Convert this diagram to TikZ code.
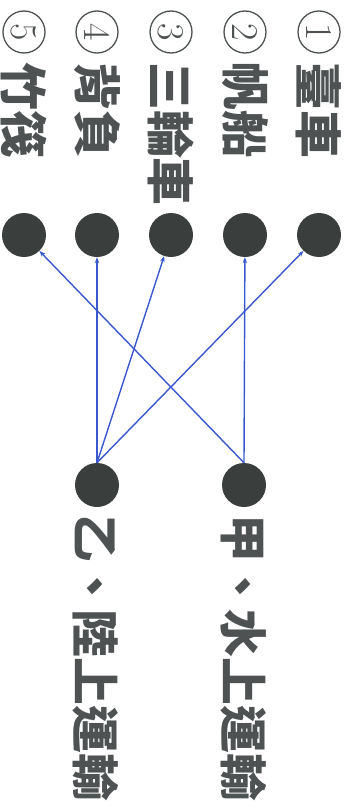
\documentclass[tikz,border=0pt]{standalone}
\usepackage{fontspec}
\newfontfamily\tcfont{Noto Sans CJK TC}
\usetikzlibrary{arrows.meta}
\definecolor{dotgray}{RGB}{58,62,60}
\definecolor{inkgray}{RGB}{78,82,82}
\definecolor{lineblue}{RGB}{58,88,205}

\begin{document}
\begin{tikzpicture}[x=1bp,y=-1bp,
  dot/.style={circle,fill=dotgray,minimum size=44bp,inner sep=0pt},
  numcirc/.style={circle,draw=inkgray,line width=1.3bp,minimum size=42bp,inner sep=0pt,
    text=inkgray,font=\fontsize{38}{38}\selectfont,rotate=-90},
  itemtext/.style={anchor=west,rotate=-90,inner sep=0pt,text=inkgray,
    font=\tcfont\bfseries\fontsize{48}{50}\selectfont},
  link/.style={lineblue,line width=1.4bp,-{Stealth[length=6bp,width=4.5bp]}}]
  \useasboundingbox (0,0) rectangle (357,812);
  % Item numbers and names
  \node[numcirc] (n1) at (319,32) {1};
  \node[itemtext] (t1) at (319,62) {臺車};
  \node[numcirc] (n2) at (245,32) {2};
  \node[itemtext] (t2) at (245,62) {帆船};
  \node[numcirc] (n3) at (171,32) {3};
  \node[itemtext] (t3) at (171,62) {三輪車};
  \node[numcirc] (n4) at (97,32) {4};
  \node[itemtext] (t4) at (97,62) {背負};
  \node[numcirc] (n5) at (24,32) {5};
  \node[itemtext] (t5) at (24,62) {竹筏};
  % Top row of dots
  \node[dot] (d1) at (319,235) {};
  \node[dot] (d2) at (245,235) {};
  \node[dot] (d3) at (171,235) {};
  \node[dot] (d4) at (97,235) {};
  \node[dot] (d5) at (24,235) {};
  % Bottom dots and categories
  \node[dot] (jia) at (244,485) {};
  \node[itemtext] (tjia) at (244,514) {甲、水上運輸};
  \node[dot] (yi) at (97,485) {};
  \node[itemtext] (tyi) at (96,514) {乙、陸上運輸};
  % Water transport
  \draw[link] (jia.north) -- (d2);
  \draw[link] (jia.north) -- (d5);
  % Land transport
  \draw[link] (yi.north) -- (d1);
  \draw[link] (yi.north) -- (d3);
  \draw[link] (yi.north) -- (d4);
\end{tikzpicture}
\end{document}
